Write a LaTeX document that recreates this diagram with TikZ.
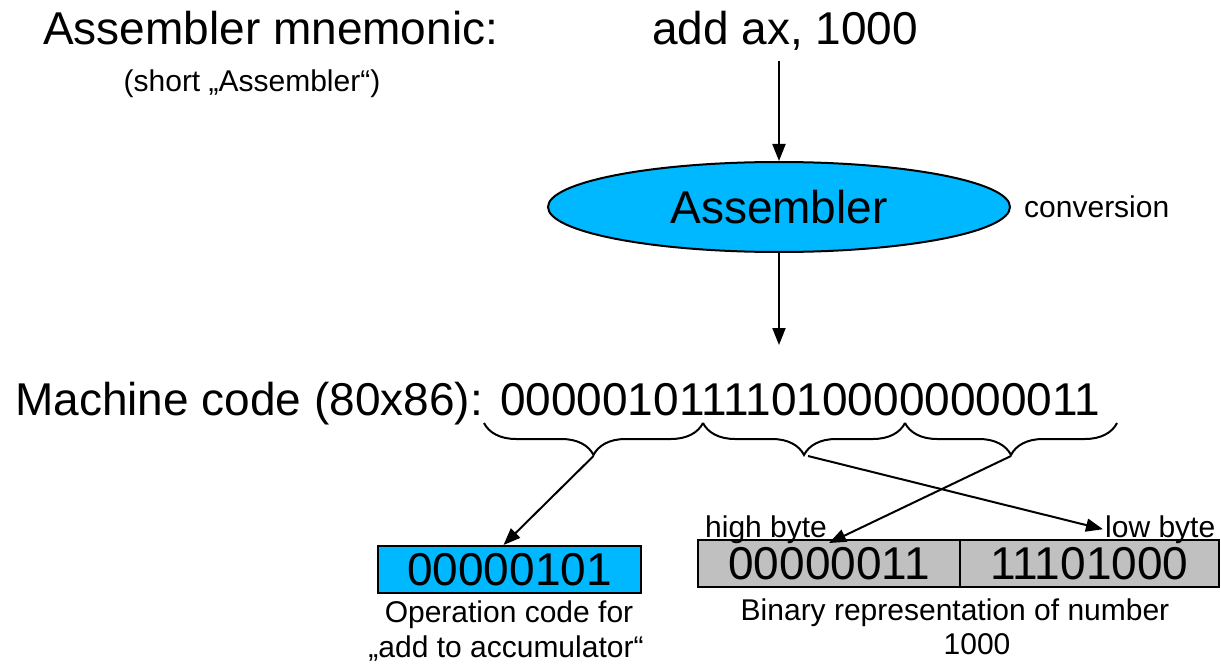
\documentclass[tikz,border=0pt]{standalone}
\usepackage{fontspec}
\setmainfont{Liberation Sans}
\usetikzlibrary{shapes.geometric,arrows.meta,decorations.pathreplacing,calc}
\definecolor{skyb}{RGB}{0,184,255}
\definecolor{boxgray}{RGB}{192,192,192}
\begin{document}
\begin{tikzpicture}[x=1pt,y=-1pt,
  big/.style={font=\fontsize{46}{52}\selectfont, inner sep=0pt},
  small/.style={font=\fontsize{30}{35}\selectfont, inner sep=0pt},
  arr/.style={line width=2pt, -{Triangle[length=17pt,width=13pt]}},
  bytebox/.style={draw, line width=2pt, font=\fontsize{46}{52}\selectfont, inner sep=0pt, minimum height=47pt},
  bracestyle/.style={line width=2pt, decorate, decoration={brace, mirror, amplitude=32pt}}]
\useasboundingbox (0,0) rectangle (1221,666);

% top line
\node[big, anchor=base west] (mn) at (43,45) {Assembler mnemonic:};
\node[big, anchor=base] (add) at (785,45) {add ax, 1000};
\node[small, anchor=base] (short) at (252,92) {(short „Assembler“)};

% assembler ellipse
\node[ellipse, draw, line width=2pt, fill=skyb, minimum width=462pt, minimum height=90pt, inner sep=0pt,
      font=\fontsize{46}{52}\selectfont] (asm) at (779,207) {Assembler};
\node[small, anchor=west] (conv) at (1024,207) {conversion};

\draw[arr, shorten <=10pt] (asm.north |- add.south) -- (asm.north);
\coordinate (mctop) at (779,345);
\draw[arr] (asm.south) -- (mctop);

% machine code
\node[big, anchor=base west] (mc) at (15,415) {Machine code (80x86): 000001011110100000000011};

% braces
\draw[bracestyle] (484,423) -- (703,423);
\draw[bracestyle] (703,423) -- (905,423);
\draw[bracestyle] (905,423) -- (1117,423);
\coordinate (b1) at (593.5,456);
\coordinate (b2) at (808,456);
\coordinate (b3) at (1011,456);

% boxes
\node[bytebox, fill=skyb, minimum width=263pt] (op) at (509.5,569.5) {00000101};
\node[bytebox, fill=boxgray, minimum width=262pt] (hi) at (829,563.5) {00000011};
\node[bytebox, fill=boxgray, minimum width=259pt] (lo) at (1089.5,563.5) {11101000};

% labels
\node[small, anchor=base west] (hil) at (705,537) {high byte};
\node[small, anchor=base west, inner sep=2pt] (lol) at (1103,537) {low byte};
\node[small, anchor=base] (op1) at (509,622) {Operation code for};
\node[small, anchor=base] (op2) at (506,657) {„add to accumulator“};
\node[small, anchor=base] (bin1) at (955,620) {Binary representation of number};
\node[small, anchor=base] (bin2) at (977,654) {1000};

% connectors
\draw[arr] (b1) -- ($(op.north)+(-6,0)$);
\draw[arr] (b3) -- ($(hi.north)+(0,4)$);
\draw[arr] (b2) -- (lol.west);
\end{tikzpicture}
\end{document}
